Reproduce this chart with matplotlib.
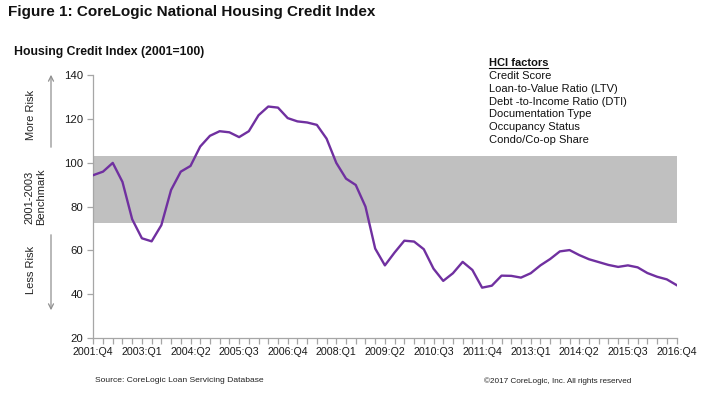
import matplotlib
matplotlib.use("Agg")
import matplotlib.pyplot as plt

plt.rcParams['font.family'] = ['Liberation Sans', 'DejaVu Sans']

# ---- data ----
quarter_labels = []
for y in range(2001, 2017):
    for q in range(1, 5):
        if (y, q) >= (2001, 4):
            quarter_labels.append(f"{y}:Q{q}")
hci_values = [94.4, 96.0, 100.0, 91.3, 74.2, 65.5, 64.1, 71.5, 87.6, 96.0,
              98.6, 107.5, 112.4, 114.5, 114.0, 111.8, 114.5, 121.8, 125.8, 125.3,
              120.5, 119.0, 118.5, 117.4, 111.1, 100.0, 92.8, 89.9, 80.0, 60.8,
              53.1, 59.0, 64.4, 64.0, 60.5, 51.6, 46.0, 49.5, 54.7, 51.0,
              42.9, 43.8, 48.4, 48.3, 47.5, 49.5, 53.1, 56.0, 59.5, 60.1,
              57.8, 55.9, 54.6, 53.3, 52.4, 53.1, 52.2, 49.6, 47.9, 46.7, 44.1]
benchmark_low = 72.7
benchmark_high = 103.0
y_ticks = [20, 40, 60, 80, 100, 120, 140]
hci_factors = ["Credit Score", "Loan-to-Value Ratio (LTV)", "Debt -to-Income Ratio (DTI)",
               "Documentation Type", "Occupancy Status", "Condo/Co-op Share"]

W, H = 710, 399
fig = plt.figure(figsize=(W / 100, H / 100), dpi=100)

def fx(x):
    return x / W

def fy(y):
    return 1 - y / H

ax_left, ax_right, ax_top, ax_bottom = 93.3, 676.5, 75.5, 337.7
ax = fig.add_axes([fx(ax_left), fy(ax_bottom), fx(ax_right) - fx(ax_left), fy(ax_top) - fy(ax_bottom)])

x = list(range(len(hci_values)))
ax.axhspan(benchmark_low, benchmark_high, color='#C0C0C0', zorder=1, lw=0)
ax.plot(x, hci_values, color='#7030A0', lw=1.7, zorder=3, solid_joinstyle='round')

ax.set_xlim(0, len(hci_values) - 1)
ax.set_ylim(20, 140)
ax.set_yticks(y_ticks)
ax.set_xticks(x, minor=True)
ax.set_xticks(x[::5])
ax.set_xticklabels(quarter_labels[::5])
for s in ['top', 'right']:
    ax.spines[s].set_visible(False)
for s in ['left', 'bottom']:
    ax.spines[s].set_color('#A6A6A6')
    ax.spines[s].set_linewidth(0.9)
ax.tick_params(axis='both', which='both', direction='out', color='#A6A6A6', width=0.9, labelcolor='#1a1a1a')
ax.tick_params(axis='x', which='both', length=4, pad=3, labelsize=7.7)
ax.tick_params(axis='y', length=4, pad=3, labelsize=8.2)

# titles
fig.text(fx(8), fy(12), "Figure 1: CoreLogic National Housing Credit Index", fontsize=11,
         fontweight='bold', ha='left', va='center', color='#111111')
fig.text(fx(14), fy(52), "Housing Credit Index (2001=100)", fontsize=8.8,
         fontweight='bold', ha='left', va='center', color='#111111')

# left annotations
fig.text(fx(31), fy(115), "More Risk", rotation=90, fontsize=8, ha='center', va='center', color='#222222')
fig.text(fx(35.5), fy(197), "2001-2003\nBenchmark", rotation=90, fontsize=8, ha='center', va='center',
         color='#222222', linespacing=1.25)
fig.text(fx(31), fy(270), "Less Risk", rotation=90, fontsize=8, ha='center', va='center', color='#222222')
arrow_kw = dict(arrowstyle='->', color='#909090', lw=0.9, mutation_scale=9)
fig.add_artist(matplotlib.patches.FancyArrowPatch((fx(51), fy(150)), (fx(51), fy(72)),
                                                  transform=fig.transFigure, **arrow_kw))
fig.add_artist(matplotlib.patches.FancyArrowPatch((fx(51), fy(232)), (fx(51), fy(313)),
                                                  transform=fig.transFigure, **arrow_kw))

# HCI factors box
fig.text(fx(489), fy(63.3), "HCI factors", fontsize=8, fontweight='bold', ha='left', va='center',
         color='#111111')
fig.add_artist(matplotlib.lines.Line2D([fx(489), fx(548)], [fy(68.3), fy(68.3)],
                                       transform=fig.transFigure, color='#111111', lw=0.8))
for i, f in enumerate(hci_factors):
    fig.text(fx(489), fy(76.2 + i * 12.7), f, fontsize=8, ha='left', va='center', color='#111111')

# footer
fig.text(fx(95), fy(381), "Source: CoreLogic Loan Servicing Database", fontsize=6.1, ha='left',
         va='center', color='#222222')
fig.text(fx(484), fy(381), "\u00a92017 CoreLogic, Inc. All rights reserved", fontsize=5.9, ha='left',
         va='center', color='#222222')

fig.savefig("out.png", dpi=100)
